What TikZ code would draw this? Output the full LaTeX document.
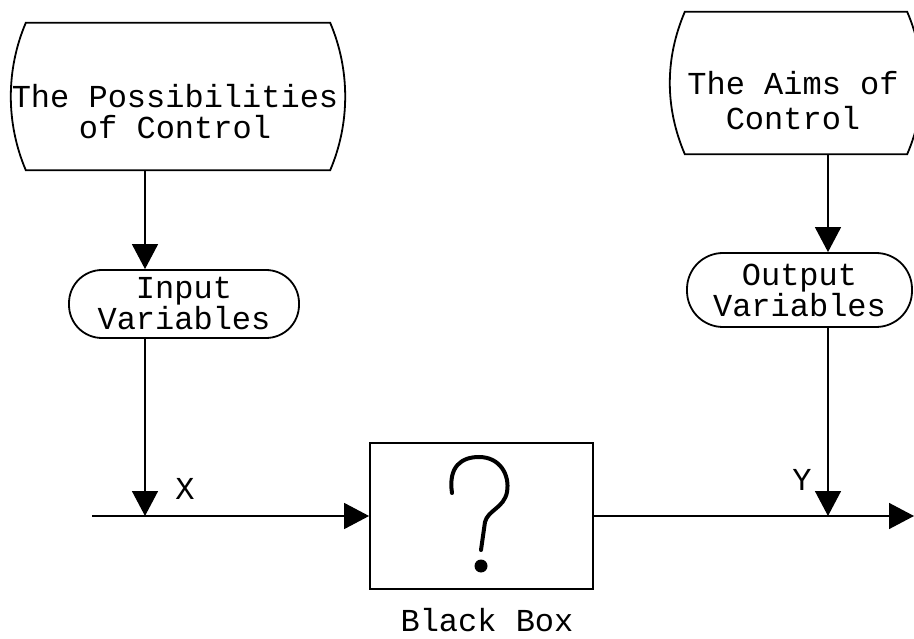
\documentclass[tikz,border=0pt]{standalone}
\usepackage{fontspec}
\newfontfamily\cour{Liberation Mono}
\usetikzlibrary{arrows.meta}
\begin{document}
\begin{tikzpicture}[x=1pt,y=-1pt,
  txt/.style={font=\cour\fontsize{32}{31}\selectfont, align=center, inner sep=0pt},
  shp/.style={line width=1.8pt},
  frame/.style={draw=none, inner sep=0pt},
  pill/.style={draw, line width=1.8pt, inner sep=0pt},
  conn/.style={line width=1.5pt, -{Triangle[length=25pt,width=26pt]}},
  plain/.style={line width=1.5pt}
]
\useasboundingbox (0,0) rectangle (914,639);

% top boxes (curved sides)
\node[frame, minimum width=304pt, minimum height=147pt] (pcbox) at (178,96.5) {};
\draw[shp] (pcbox.north west) -- (pcbox.north east)
  .. controls +(20,47) and +(20,-47) .. (pcbox.south east)
  -- (pcbox.south west)
  .. controls +(-20,-47) and +(-20,47) .. (pcbox.north west) -- cycle;
\node[txt] (pc) at (175,112) {The Possibilities\\of Control};

\node[frame, minimum width=222pt, minimum height=142pt] (aimbox) at (796,83) {};
\draw[shp] (aimbox.north west) -- (aimbox.north east)
  .. controls +(20,47) and +(20,-47) .. (aimbox.south east)
  -- (aimbox.south west)
  .. controls +(-20,-47) and +(-20,47) .. (aimbox.north west) -- cycle;
\node[txt, font=\cour\fontsize{32}{35}\selectfont] (aim) at (793,101) {The Aims of\\Control};

% pills
\node[pill, txt, minimum width=230pt, minimum height=68pt, rounded corners=33pt] (inp) at (184,304) {Input\\Variables};
\node[pill, txt, minimum width=225pt, minimum height=74pt, rounded corners=36pt] (outv) at (799.5,290) {Output\\Variables};

% black box
\node[draw, line width=1.8pt, minimum width=223pt, minimum height=146pt, inner sep=0pt] (bb) at (481.5,516) {};
\draw[line width=4pt, line cap=round]
  (452,493) .. controls (448,466) and (462,457) .. (479,457)
  .. controls (500,457) and (510,475) .. (507,492)
  .. controls (504,508) and (488,510) .. (485,522) -- (481,550);
\fill (481,566) circle (6.5pt);
\node[txt, anchor=base] (bbl) at (487,631) {Black Box};

% column coordinates
\coordinate (xcol) at (145,0);
\coordinate (ycol) at (828,0);
\coordinate (lin) at (92,516);
\coordinate (rout) at (914,516);

% connectors
\draw[conn] (pcbox.south -| xcol) -- (inp.north -| xcol);
\draw[conn] (aimbox.south -| ycol) -- (outv.north -| ycol);
\draw[conn] (inp.south -| xcol) -- (xcol |- bb.west);
\draw[conn] (outv.south -| ycol) -- (ycol |- bb.east);
\draw[conn] (lin) -- (bb.west);
\draw[conn] (bb.east) -- (rout);

% labels
\node[txt] (xl) at (185,489) {X};
\node[txt] (yl) at (802,480) {Y};
\end{tikzpicture}
\end{document}
